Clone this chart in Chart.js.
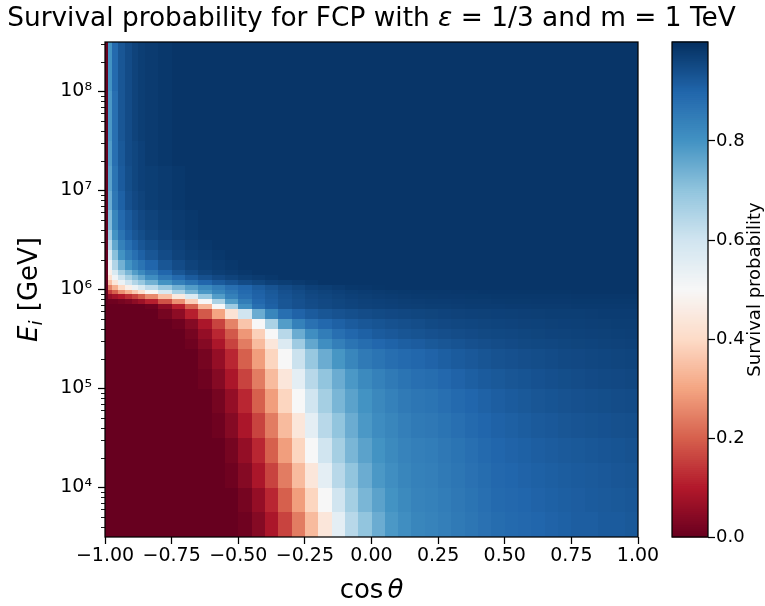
<!DOCTYPE html>
<html>
<head>
<meta charset="utf-8">
<title>Survival probability FCP</title>
<script src="https://cdn.jsdelivr.net/npm/chart.js@4.4.0/dist/chart.umd.min.js"></script>
<style>
  html, body { margin: 0; padding: 0; background: #fff; }
  #wrap { width: 765px; height: 606px; }
</style>
</head>
<body>
<div id="wrap"><canvas id="chart" width="765" height="606"></canvas></div>
<script>
// bin edges of the map
const cosEdges = [-1, -0.99, -0.975, -0.95, -0.925, -0.9, -0.875, -0.85, -0.8, -0.75, -0.7, -0.65, -0.6, -0.55, -0.5, -0.45, -0.4, -0.35, -0.3, -0.25, -0.2, -0.15, -0.1, -0.05, 0, 0.05, 0.1, 0.15, 0.2, 0.25, 0.3, 0.35, 0.4, 0.45, 0.5, 0.55, 0.6, 0.65, 0.7, 0.75, 0.8, 0.85, 0.9, 0.95, 1];
const logEEdges = [3.5, 3.75, 4, 4.25, 4.5, 4.75, 5, 5.2, 5.4, 5.5, 5.6, 5.7, 5.8, 5.85, 5.9, 5.95, 6, 6.05, 6.1, 6.15, 6.2, 6.3, 6.4, 6.5, 6.6, 6.8, 7, 7.25, 7.5, 8, 8.5];

// survival probability in %, one array per energy bin (named by lower log10 E edge), cos bins left to right
const surv_3_50 = [0,0,0,0,0,0,0,0,0,0,0,0,0,0,1,4,9,16,24,34,44,55,64,70,75,79,81,83,83.5,84.5,85.5,86.5,87.5,88.5,89,89.5,90,90.5,91,91.5,91.5,92,92,92.5];
const surv_3_75 = [0,0,0,0,0,0,0,0,0,0,0,0,0,0,2,6,12,20,29,39,50,60,67,73,77,80,82,83.5,84,85,86,87,88,89,89.5,90,90.5,91,91.3,91.6,92,92.2,92.5,92.8];
const surv_4_00 = [0,0,0,0,0,0,0,0,0,0,0,0,0,1,4,9,16,24,34,44,55,64,70,75,79,81,83,84,84.5,85.5,86.5,87.5,88.5,89.5,90,90.5,91,91.3,91.7,92,92.3,92.6,92.9,93.2];
const surv_4_25 = [0,0,0,0,0,0,0,0,0,0,0,0,0,2,6,12,20,29,39,50,60,67,73,77,80,82,83.5,84.5,85,86,87,88,89,90,90.5,91,91.5,91.9,92.2,92.5,92.8,93.1,93.4,93.7];
const surv_4_50 = [0,0,0,0,0,0,0,0,0,0,0,0,1,4,9,16,24,34,44,55,64,70,75,79,81.5,83,84.5,85.5,86,87,88,89,90,90.7,91.2,91.7,92.2,92.6,93,93.3,93.6,93.8,94.1,94.3];
const surv_4_75 = [0,0,0,0,0,0,0,0,0,0,0,0,2,6,12,20,29,39,50,60,67,73,77,80,82.5,84,85.5,86.5,87,88,89,90,90.8,91.5,92,92.5,93,93.4,93.7,94,94.3,94.5,94.8,95];
const surv_5_00 = [0,0,0,0,0,0,0,0,0,0,0,1,4,9,16,24,34,44,55,64,70,75,79,82,84,85.5,87,88,88.5,89.5,90.5,91.3,92,92.5,93,93.4,93.8,94.2,94.5,94.8,95.1,95.3,95.5,95.7];
const surv_5_20 = [0,0,0,0,0,0,0,0,0,0,0,2,6,12,20,29,39,50,61,69,75,79.5,83,85.5,87,88.2,89.2,89.8,90.5,91.3,92,92.6,93.2,93.7,94,94.4,94.7,95,95.3,95.5,95.7,95.9,96.1,96.3];
const surv_5_40 = [0,0,0,0,0,0,0,0,0,0,1,4,9,16,24,34,44,57,68,76,81,84.5,87,88.5,89.7,90.6,91.3,91.8,92.5,93,93.5,94,94.4,94.8,95.1,95.4,95.6,95.8,96,96.2,96.3,96.5,96.6,96.8];
const surv_5_50 = [0,0,0,0,0,0,0,0,0,0,2,6,12,19,28,38,50,64,75,81,85,88,89.8,91,92,92.6,93.2,93.6,94,94.4,94.8,95.1,95.4,95.6,95.8,96,96.2,96.4,96.5,96.7,96.8,96.9,97.1,97.2];
const surv_5_60 = [0,0,0,0,0,0,0,0,0,1,4,9,16,25,36,50,66,78,84,87.5,89.5,91,92,92.8,93.4,93.9,94.3,94.7,95.2,95.5,95.7,95.9,96.1,96.3,96.4,96.6,96.7,96.9,97,97.1,97.2,97.3,97.4,97.5];
const surv_5_70 = [0,0,0,0,0,0,0,0,2,5,11,19,30,43,60,75,83,88,90.5,92,93,93.7,94.3,94.8,95.2,95.5,95.8,96,96.2,96.4,96.6,96.8,96.9,97,97.1,97.2,97.3,97.4,97.5,97.5,97.6,97.7,97.7,97.8];
const surv_5_80 = [0,0,0,0,0,0,0,1,5,11,20,33,50,68,81,88,91,93,94,94.8,95.4,95.9,96.3,96.6,96.8,97,97.2,97.3,97.4,97.5,97.6,97.7,97.7,97.8,97.9,97.9,98,98,98,98.1,98.1,98.1,98.1,98.1];
const surv_5_85 = [0,1,1,2,3,5,7,11,18,27,38,50,66,78,85,89.5,91.5,93,94,95,95.5,96,96.4,96.8,97,97.2,97.4,97.6,97.7,97.8,97.9,98,98,98.1,98.2,98.2,98.3,98.3,98.3,98.4,98.4,98.4,98.4,98.4];
const surv_5_90 = [0,6,8,10,13,16,20,26,35,45,57,69,78,84,88,90.5,92,93.5,94.5,95.5,96,96.5,97,97.3,97.6,97.8,98,98.1,98.2,98.3,98.3,98.4,98.4,98.5,98.5,98.5,98.6,98.6,98.6,98.7,98.7,98.7,98.7,98.7];
const surv_5_95 = [0,15,20,27,32,37,42,49,58,66,73,79,83,86,89,91,92.5,94,95,96,96.5,97,97.5,97.8,98,98.2,98.4,98.5,98.6,98.6,98.7,98.7,98.8,98.8,98.8,98.9,98.9,98.9,98.9,99,99,99,99,99];
const surv_6_00 = [0,25,32,40,47,53,58,63,69,74,78,82,85,88,90,92,93.5,95,96,97,97.5,98,98.5,98.7,98.9,99,99,99,99,99,99,99,99,99,99,99,99,99,99,99,99,99,99,99];
const surv_6_05 = [0,35,44,53,60,65,69,74,80,84,87,90,92,93.5,95,96,97,97.5,98,98.5,99,99,99,99,99,99,99,99,99,99,99,99,99,99,99,99,99,99,99,99,99,99,99,99];
const surv_6_10 = [0,42,52,61,67,72,76,81,86,89,92,94,95.5,96.5,97.5,98,98.5,99,99,99,99,99,99,99,99,99,99,99,99,99,99,99,99,99,99,99,99,99,99,99,99,99,99,99];
const surv_6_15 = [0,47,58,67,73,78,82,86,90,93,95,96.5,97.5,98,98.5,99,99,99,99,99,99,99,99,99,99,99,99,99,99,99,99,99,99,99,99,99,99,99,99,99,99,99,99,99];
const surv_6_20 = [0,53,65,74,80,84,87,90,93,95,96.5,97.5,98,98.5,99,99,99,99,99,99,99,99,99,99,99,99,99,99,99,99,99,99,99,99,99,99,99,99,99,99,99,99,99,99];
const surv_6_30 = [0,59,71,80,85,88,91,93,95,96.5,97.5,98,98.5,99,99,99,99,99,99,99,99,99,99,99,99,99,99,99,99,99,99,99,99,99,99,99,99,99,99,99,99,99,99,99];
const surv_6_40 = [0,64,76,84,88,91,93,94.5,96,97,98,98.5,99,99,99,99,99,99,99,99,99,99,99,99,99,99,99,99,99,99,99,99,99,99,99,99,99,99,99,99,99,99,99,99];
const surv_6_50 = [0,68,80,87,91,93,94.5,96,97,98,98.5,99,99,99,99,99,99,99,99,99,99,99,99,99,99,99,99,99,99,99,99,99,99,99,99,99,99,99,99,99,99,99,99,99];
const surv_6_60 = [0,72,83,89,92,94,95.5,96.5,97.5,98,98.5,99,99,99,99,99,99,99,99,99,99,99,99,99,99,99,99,99,99,99,99,99,99,99,99,99,99,99,99,99,99,99,99,99];
const surv_6_80 = [0,75,86,91,94,95.5,96.5,97.5,98,98.5,99,99,99,99,99,99,99,99,99,99,99,99,99,99,99,99,99,99,99,99,99,99,99,99,99,99,99,99,99,99,99,99,99,99];
const surv_7_00 = [0,77,87,92,94.5,96,97,97.5,98,98.5,99,99,99,99,99,99,99,99,99,99,99,99,99,99,99,99,99,99,99,99,99,99,99,99,99,99,99,99,99,99,99,99,99,99];
const surv_7_25 = [0,78,88,92.5,95,96,97,98,98.5,99,99,99,99,99,99,99,99,99,99,99,99,99,99,99,99,99,99,99,99,99,99,99,99,99,99,99,99,99,99,99,99,99,99,99];
const surv_7_50 = [0,79,88,93,95,96.5,97.5,98,98.5,99,99,99,99,99,99,99,99,99,99,99,99,99,99,99,99,99,99,99,99,99,99,99,99,99,99,99,99,99,99,99,99,99,99,99];
const surv_8_00 = [0,80,89,93,95,96.5,97.5,98,98.5,99,99,99,99,99,99,99,99,99,99,99,99,99,99,99,99,99,99,99,99,99,99,99,99,99,99,99,99,99,99,99,99,99,99,99];

const survivalRows = [surv_3_50, surv_3_75, surv_4_00, surv_4_25, surv_4_50, surv_4_75, surv_5_00, surv_5_20,
  surv_5_40, surv_5_50, surv_5_60, surv_5_70, surv_5_80, surv_5_85, surv_5_90, surv_5_95, surv_6_00, surv_6_05,
  surv_6_10, surv_6_15, surv_6_20, surv_6_30, surv_6_40, surv_6_50, surv_6_60, surv_6_80, surv_7_00, surv_7_25,
  surv_7_50, surv_8_00];

// ticks
const xTickValues = [-1, -0.75, -0.5, -0.25, 0, 0.25, 0.5, 0.75, 1];
const yTickPowers = [4, 5, 6, 7, 8];
const cbTickValues = [0, 0.2, 0.4, 0.6, 0.8];

const titleParts = [['Survival probability for FCP with ', false], ['ε', true], [' = 1/3 and m = 1 TeV', false]];
const cbLabel = 'Survival probability';

const FONT = 'DejaVu Sans';
const SUP = { 4: '\u2074', 5: '\u2075', 6: '\u2076', 7: '\u2077', 8: '\u2078' };

// matplotlib RdBu
const RDBU = [
  [103, 0, 31], [178, 24, 43], [214, 96, 77], [244, 165, 130], [253, 219, 199],
  [247, 247, 247], [209, 229, 240], [146, 197, 222], [67, 147, 195], [33, 102, 172], [5, 48, 97]
];
function rdbu(v) {
  const t = Math.min(Math.max(v, 0), 1) * 10;
  const i = Math.min(Math.floor(t), 9);
  const f = t - i;
  const a = RDBU[i], b = RDBU[i + 1];
  const c = a.map((ch, j) => Math.round(ch + (b[j] - ch) * f));
  return `rgb(${c[0]},${c[1]},${c[2]})`;
}

function fmtCos(v) {
  return (v < 0 ? '\u2212' : '') + Math.abs(v).toFixed(2);
}

const CB_WIDTH = 36;

// pcolormesh-like cells + colorbar
const heatmapPlugin = {
  id: 'heatmap',
  beforeDatasetsDraw(chart) {
    const { ctx, scales: { x, y } } = chart;
    ctx.save();
    survivalRows.forEach((row, r) => {
      const yb = Math.round(y.getPixelForValue(Math.pow(10, logEEdges[r])));
      const yt = Math.round(y.getPixelForValue(Math.pow(10, logEEdges[r + 1])));
      row.forEach((val, k) => {
        const xl = Math.round(x.getPixelForValue(cosEdges[k]));
        const xr = Math.round(x.getPixelForValue(cosEdges[k + 1]));
        ctx.fillStyle = rdbu(val / 100);
        ctx.fillRect(xl, yt, xr - xl, yb - yt);
      });
    });

    const cb = chart.scales.cb;
    const left = cb.left - CB_WIDTH;
    const step = 0.004;
    for (let v = 0; v < 1; v += step) {
      const y0 = cb.getPixelForValue(v);
      const y1 = cb.getPixelForValue(Math.min(v + step, 1));
      ctx.fillStyle = rdbu(v + step / 2);
      ctx.fillRect(left, y1 - 0.5, CB_WIDTH, y0 - y1 + 1);
    }
    ctx.restore();
  }
};

// title, frames, minor ticks and axis titles
const decorPlugin = {
  id: 'decor',
  afterDraw(chart) {
    const { ctx, chartArea: a, scales: { y, cb } } = chart;
    ctx.save();
    ctx.strokeStyle = '#000';
    ctx.fillStyle = '#000';

    // title centred over the axes
    ctx.textBaseline = 'middle';
    const tSize = 26.4;
    let tw = 0;
    titleParts.forEach(([s, it]) => {
      ctx.font = `${it ? 'italic ' : ''}${tSize}px "${FONT}"`;
      tw += ctx.measureText(s).width;
    });
    let tx = (a.left + a.right) / 2 - tw / 2;
    titleParts.forEach(([s, it]) => {
      ctx.font = `${it ? 'italic ' : ''}${tSize}px "${FONT}"`;
      ctx.fillText(s, tx, 19);
      tx += ctx.measureText(s).width;
    });

    ctx.lineWidth = 1.25;
    ctx.strokeRect(a.left, a.top, a.right - a.left, a.bottom - a.top);
    ctx.strokeRect(cb.left - CB_WIDTH, a.top, CB_WIDTH, a.bottom - a.top);

    // log minor ticks
    ctx.lineWidth = 0.9;
    ctx.beginPath();
    for (let p = 3; p <= 8; p++) {
      for (let m = 2; m <= 9; m++) {
        const v = m * Math.pow(10, p);
        if (v < y.min || v > y.max) continue;
        const py = Math.round(y.getPixelForValue(v)) + 0.5;
        ctx.moveTo(a.left, py);
        ctx.lineTo(a.left - 4, py);
      }
    }
    ctx.stroke();

    // x title: cos θ
    ctx.textBaseline = 'alphabetic';
    ctx.font = `26px "${FONT}"`;
    const wCos = ctx.measureText('cos').width;
    ctx.font = `italic 26px "${FONT}"`;
    const wTh = ctx.measureText('θ').width;
    const gap = 4;
    const sx = (a.left + a.right) / 2 - (wCos + gap + wTh) / 2;
    ctx.font = `26px "${FONT}"`;
    ctx.fillText('cos', sx, 598);
    ctx.font = `italic 26px "${FONT}"`;
    ctx.fillText('θ', sx + wCos + gap, 598);

    // y title: E_i [GeV]
    ctx.save();
    ctx.translate(37, (a.top + a.bottom) / 2);
    ctx.rotate(-Math.PI / 2);
    ctx.font = `italic 26px "${FONT}"`;
    const wE = ctx.measureText('E').width;
    ctx.font = `italic 18px "${FONT}"`;
    const wi = ctx.measureText('i').width;
    ctx.font = `26px "${FONT}"`;
    const wG = ctx.measureText(' [GeV]').width;
    let u = -(wE + wi + 1 + wG) / 2;
    ctx.font = `italic 26px "${FONT}"`;
    ctx.fillText('E', u, 0);
    u += wE;
    ctx.font = `italic 18px "${FONT}"`;
    ctx.fillText('i', u, 5);
    u += wi + 1;
    ctx.font = `26px "${FONT}"`;
    ctx.fillText(' [GeV]', u, 0);
    ctx.restore();

    // colorbar label
    ctx.save();
    ctx.translate(760, (a.top + a.bottom) / 2);
    ctx.rotate(-Math.PI / 2);
    ctx.font = `18px "${FONT}"`;
    ctx.textAlign = 'center';
    ctx.fillText(cbLabel, 0, 0);
    ctx.restore();

    ctx.restore();
  }
};

Chart.defaults.font.family = FONT;
Chart.defaults.color = '#000';

const tickGrid = { drawOnChartArea: false, tickLength: 7, tickWidth: 1.25, color: '#000' };

new Chart(document.getElementById('chart'), {
  type: 'scatter',
  data: { datasets: [] },
  options: {
    responsive: false,
    animation: false,
    devicePixelRatio: 1,
    layout: { padding: { top: 42 } },
    plugins: {
      legend: { display: false },
      tooltip: { enabled: false },
      title: { display: false }
    },
    scales: {
      x: {
        type: 'linear',
        min: -1,
        max: 1,
        afterBuildTicks: s => { s.ticks = xTickValues.map(v => ({ value: v })); },
        afterFit: s => { s.height = 69; },
        ticks: { autoSkip: false, maxRotation: 0, padding: 1, font: { size: 19 }, callback: v => fmtCos(v) },
        grid: tickGrid,
        border: { display: false }
      },
      y: {
        type: 'logarithmic',
        position: 'left',
        min: Math.pow(10, logEEdges[0]),
        max: Math.pow(10, logEEdges[logEEdges.length - 1]),
        afterBuildTicks: s => { s.ticks = yTickPowers.map(p => ({ value: Math.pow(10, p) })); },
        afterFit: s => { s.width = 105; },
        ticks: { padding: 6, font: { size: 19 }, callback: v => '10' + SUP[Math.round(Math.log10(v))] },
        grid: tickGrid,
        border: { display: false }
      },
      gap: {
        type: 'linear',
        position: 'right',
        weight: 0,
        min: 0,
        max: 1,
        afterFit: s => { s.width = 70; },
        ticks: { display: false },
        grid: { display: false },
        border: { display: false }
      },
      cb: {
        type: 'linear',
        position: 'right',
        weight: 1,
        min: 0,
        max: 1,
        afterBuildTicks: s => { s.ticks = cbTickValues.map(v => ({ value: v })); },
        afterFit: s => { s.width = 57; },
        ticks: { padding: 1, font: { size: 18 }, callback: v => v.toFixed(1) },
        grid: tickGrid,
        border: { display: false }
      }
    }
  },
  plugins: [heatmapPlugin, decorPlugin]
});
</script>
</body>
</html>
